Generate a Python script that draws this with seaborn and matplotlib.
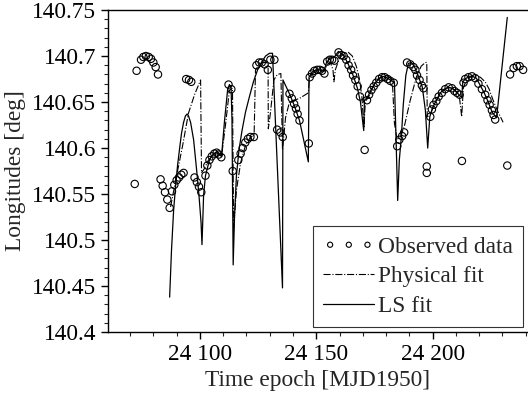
import numpy as np
import pandas as pd
import seaborn as sns
import matplotlib
matplotlib.use("Agg")
import matplotlib.pyplot as plt
from matplotlib.ticker import MultipleLocator, FuncFormatter

# observed longitudes (MJD1950 epoch, deg)
obs_t = [24072.0, 24072.8, 24074.7, 24075.7, 24076.8, 24078.0, 24079.0, 24080.0, 24081.0, 24082.0,
         24083.1, 24084.0, 24085.0, 24086.0, 24087.0, 24088.0, 24089.0, 24090.0, 24091.0, 24092.0, 24093.0,
         24094.1, 24095.3, 24096.3, 24097.7, 24098.7, 24099.6, 24100.6,
         24102.4, 24103.2, 24104.1, 24105.1, 24106.2, 24107.2, 24108.1, 24109.2,
         24112.3, 24113.5, 24114.1,
         24116.5, 24117.5, 24118.4, 24119.5, 24120.6, 24121.7, 24123.2,
         24124.3, 24125.5, 24126.6, 24127.8, 24129.2, 24130.3, 24132.0,
         24133.2, 24134.6, 24135.6,
         24138.5, 24139.5, 24140.5, 24141.3, 24142.0, 24142.8, 24146.8,
         24147.2, 24148.2, 24149.2, 24150.4, 24151.5, 24152.5, 24153.5,
         24154.7, 24155.8, 24156.8, 24157.8, 24159.6,
         24160.8, 24161.8, 24162.9, 24163.9, 24165.0, 24165.8, 24166.8, 24167.8, 24168.8, 24170.8,
         24171.8, 24172.7, 24173.7, 24174.7, 24175.8, 24177.0, 24178.3, 24179.4, 24180.7, 24181.8, 24183.3,
         24184.8, 24185.7, 24186.9, 24187.8,
         24189.0, 24190.4, 24191.8, 24192.6, 24193.3, 24194.4, 24195.4, 24196.1, 24197.5, 24197.5,
         24199.0, 24199.7, 24200.4, 24201.6, 24202.6, 24204.0, 24205.4, 24206.9, 24208.3, 24209.4,
         24210.5, 24211.6, 24212.6,
         24213.3, 24214.0, 24215.4, 24216.9, 24218.3, 24219.7, 24221.2, 24222.6, 24223.6, 24224.5,
         24225.5, 24226.2, 24226.9, 24232.1,
         24233.3, 24234.8, 24236.2, 24237.4, 24238.9]
obs_lon = [140.561, 140.684, 140.696, 140.699, 140.700, 140.699, 140.697, 140.693, 140.688, 140.680,
           140.566, 140.559, 140.552, 140.544, 140.535, 140.553, 140.560, 140.565, 140.568, 140.571, 140.573,
           140.675, 140.674, 140.672, 140.568, 140.563, 140.558, 140.552,
           140.570, 140.581, 140.587, 140.591, 140.594, 140.595, 140.593, 140.590,
           140.669, 140.664, 140.575,
           140.587, 140.594, 140.600, 140.606, 140.610, 140.612, 140.612,
           140.690, 140.693, 140.693, 140.691, 140.685, 140.696, 140.696,
           140.620, 140.617, 140.612,
           140.659, 140.654, 140.648, 140.643, 140.637, 140.630, 140.605,
           140.677, 140.681, 140.684, 140.685, 140.685, 140.684, 140.681,
           140.694, 140.696, 140.696, 140.695, 140.704,
           140.701, 140.700, 140.696, 140.690, 140.685, 140.679, 140.674, 140.667, 140.656, 140.598,
           140.652, 140.658, 140.663, 140.667, 140.671, 140.675, 140.677, 140.677, 140.675, 140.673, 140.671,
           140.602, 140.609, 140.613, 140.617,
           140.693, 140.691, 140.688, 140.685, 140.679, 140.674, 140.668, 140.665, 140.580, 140.573,
           140.634, 140.642, 140.647, 140.651, 140.656, 140.660, 140.664, 140.666, 140.665, 140.662,
           140.660, 140.658, 140.586,
           140.671, 140.675, 140.677, 140.678, 140.676, 140.670, 140.664, 140.658, 140.652, 140.647,
           140.641, 140.636, 140.631, 140.581,
           140.680, 140.687, 140.689, 140.689, 140.685]

# physical model fit
phys_t = [24087.4, 24090.0, 24092.6, 24095.1, 24097.7, 24100.3, 24100.7, 24102.0, 24103.7, 24105.9,
          24107.6, 24109.3, 24111.0, 24112.7, 24114.0, 24114.5, 24115.7, 24117.5, 24119.6, 24121.8,
          24123.3, 24123.9, 24125.6, 24126.9, 24128.6, 24129.3, 24129.4, 24130.3, 24131.8, 24133.3,
          24134.8, 24135.5, 24136.8, 24138.5, 24140.6, 24142.8, 24146.6, 24147.1, 24148.4, 24150.1,
          24151.8, 24153.5, 24154.8, 24156.1, 24157.2, 24157.6, 24158.2, 24160.0, 24162.1, 24163.8,
          24165.5, 24167.2, 24168.5, 24169.6, 24170.5, 24171.1, 24172.4, 24174.1, 24176.3, 24178.4,
          24180.1, 24181.4, 24182.7, 24183.6, 24184.8, 24186.1, 24187.8, 24190.4, 24193.0, 24195.1,
          24196.9, 24197.5, 24197.7, 24199.0, 24200.7, 24202.4, 24204.2, 24205.9, 24207.2, 24208.4,
          24209.7, 24211.5, 24212.5, 24213.2, 24214.5, 24216.2, 24218.3, 24220.5, 24222.6, 24224.3,
          24226.0, 24227.8, 24230.3]
phys_lon = [140.536, 140.570, 140.603, 140.638, 140.658, 140.674, 140.573, 140.578, 140.587, 140.593,
            140.594, 140.591, 140.625, 140.663, 140.665, 140.513, 140.554, 140.584, 140.603, 140.612,
            140.614, 140.685, 140.691, 140.693, 140.693, 140.690, 140.621, 140.638, 140.674, 140.680,
            140.681, 140.598, 140.633, 140.650, 140.652, 140.654, 140.660, 140.676, 140.681, 140.684,
            140.685, 140.684, 140.691, 140.693, 140.685, 140.672, 140.685, 140.698, 140.703, 140.704,
            140.700, 140.689, 140.676, 140.656, 140.622, 140.651, 140.655, 140.665, 140.674, 140.678,
            140.679, 140.677, 140.673, 140.627, 140.609, 140.612, 140.623, 140.652, 140.677, 140.689,
            140.693, 140.693, 140.634, 140.636, 140.648, 140.655, 140.661, 140.665, 140.666, 140.665,
            140.663, 140.656, 140.634, 140.665, 140.674, 140.677, 140.679, 140.677, 140.672, 140.664,
            140.652, 140.641, 140.628]

# least-squares fit
ls_t = [24087.0, 24087.8, 24088.7, 24089.6, 24090.4, 24091.3, 24092.1, 24093.0, 24093.8, 24094.5,
        24095.1, 24096.0, 24097.3, 24098.6, 24099.6, 24100.5, 24100.9, 24101.6, 24102.4, 24104.2,
        24105.9, 24107.6, 24109.3, 24110.6, 24111.9, 24112.7, 24113.4, 24113.8, 24114.3, 24114.9,
        24115.7, 24116.8, 24118.1, 24119.6, 24121.3, 24123.0, 24124.8, 24126.5, 24128.2, 24129.9,
        24131.2, 24135.5, 24135.7, 24138.5, 24140.6, 24142.8, 24146.6, 24146.9, 24148.4, 24150.1,
        24151.8, 24153.3, 24154.4, 24156.1, 24157.8, 24159.5, 24161.7, 24163.8, 24166.0, 24167.7,
        24169.0, 24170.4, 24170.7, 24172.0, 24173.7, 24175.4, 24177.1, 24178.8, 24180.6, 24182.3,
        24183.6, 24184.2, 24185.0, 24185.7, 24186.6, 24187.4, 24188.5, 24189.6, 24190.9, 24192.1,
        24193.9, 24195.6, 24196.9, 24197.9, 24198.8, 24199.9, 24201.6, 24203.3, 24205.0, 24206.7,
        24208.4, 24210.2, 24212.5, 24213.0, 24214.0, 24215.7, 24217.0, 24218.8, 24220.5, 24222.2,
        24223.9, 24225.6, 24227.5, 24232.1]
ls_lon = [140.438, 140.489, 140.532, 140.560, 140.581, 140.600, 140.616, 140.628, 140.635, 140.637,
          140.635, 140.628, 140.609, 140.576, 140.549, 140.519, 140.495, 140.549, 140.570, 140.588,
          140.594, 140.596, 140.591, 140.630, 140.663, 140.669, 140.665, 140.630, 140.473, 140.527,
          140.570, 140.598, 140.619, 140.639, 140.656, 140.672, 140.685, 140.693, 140.700, 140.703,
          140.703, 140.448, 140.674, 140.659, 140.646, 140.630, 140.585, 140.677, 140.683, 140.685,
          140.685, 140.683, 140.693, 140.698, 140.699, 140.705, 140.701, 140.691, 140.678, 140.665,
          140.650, 140.619, 140.652, 140.655, 140.664, 140.671, 140.676, 140.678, 140.676, 140.673,
          140.672, 140.619, 140.543, 140.587, 140.613, 140.647, 140.679, 140.692, 140.693, 140.689,
          140.678, 140.666, 140.641, 140.600, 140.634, 140.643, 140.652, 140.660, 140.664, 140.666,
          140.665, 140.661, 140.655, 140.672, 140.675, 140.678, 140.678, 140.676, 140.668, 140.660,
          140.650, 140.639, 140.633, 140.742]

sns.set_style("ticks")
plt.rcParams["font.family"] = ["Liberation Serif", "DejaVu Serif"]
plt.rcParams["font.size"] = 16.8

fig = plt.figure(figsize=(5.28, 4.12), dpi=100)
ax = fig.add_axes([0.2045, 0.194, 0.7955, 0.7816])

sns.scatterplot(x=obs_t, y=obs_lon, ax=ax, marker="o", s=28, facecolor="none",
                edgecolor="black", linewidth=0.8, label="Observed data", zorder=3)
sns.lineplot(x=phys_t, y=phys_lon, ax=ax, sort=False, estimator=None, color="black",
             linestyle="-.", linewidth=0.8, label="Physical fit")
sns.lineplot(x=ls_t, y=ls_lon, ax=ax, sort=False, estimator=None, color="black",
             linestyle="-", linewidth=0.9, label="LS fit")

ax.set_xlim(24060.5, 24241)
ax.set_ylim(140.4, 140.75)
ax.xaxis.set_major_locator(MultipleLocator(50))
ax.xaxis.set_minor_locator(MultipleLocator(10))
ax.yaxis.set_major_locator(MultipleLocator(0.05))
ax.yaxis.set_minor_locator(MultipleLocator(0.01))
ax.xaxis.set_major_formatter(FuncFormatter(
    lambda v, p: f"{int(round(v)) // 1000} {int(round(v)) % 1000:03d}"))
ax.yaxis.set_major_formatter(FuncFormatter(lambda v, p: f"{v:g}"))
ax.tick_params(which="major", direction="out", length=5, width=1, labelsize=16.8, colors="black")
ax.tick_params(which="minor", direction="out", length=3, width=0.8)

for s in ["left", "bottom", "top"]:
    ax.spines[s].set_color("black")
    ax.spines[s].set_linewidth(1.0)
ax.spines["right"].set_visible(False)

ax.set_xlabel("Time epoch [MJD1950]", fontsize=16.8)
ax.set_ylabel("Longitudes [deg]", fontsize=16.8)

leg = ax.legend(loc="lower right", borderaxespad=0.2, scatterpoints=3, scatteryoffsets=[0.5],
                markerscale=0.7, frameon=True, fancybox=False, fontsize=16.8, handlelength=2.2,
                handletextpad=0.15, borderpad=0.45, labelspacing=0.35)
leg.get_frame().set_edgecolor("black")
leg.get_frame().set_linewidth(0.8)

fig.savefig("out.png", dpi=100)
